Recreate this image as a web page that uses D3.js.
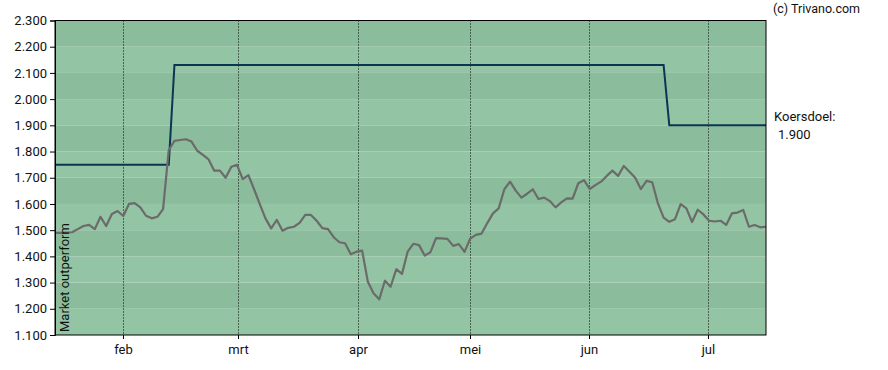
<!DOCTYPE html>
<html>
<head>
<meta charset="utf-8">
<script src="https://cdnjs.cloudflare.com/ajax/libs/d3/7.8.5/d3.min.js"></script>
<style>
  body { margin: 0; background: #fff; }
  svg { font-family: Roboto, sans-serif; }
</style>
</head>
<body>
<div id="chart"></div>
<script>
// koers per handelsdag (index 0..125)
var koers = [1490,1490,1491,1492,1504,1516,1520,1504,1551,1516,1562,1573,1554,1600,1603,1587,1555,1545,1551,1580,
  1806,1841,1844,1847,1838,1803,1787,1770,1727,1727,1700,1742,1749,1695,1710,1656,1599,1545,1507,1539,
  1498,1509,1513,1528,1558,1558,1536,1508,1504,1473,1454,1450,1408,1418,1422,1303,1259,1236,1307,1284,
  1351,1333,1418,1448,1443,1403,1416,1470,1469,1467,1440,1447,1417,1468,1482,1487,1527,1564,1583,1656,
  1685,1651,1624,1639,1656,1619,1624,1611,1587,1606,1621,1620,1679,1691,1657,1672,1685,1707,1727,1707,
  1745,1723,1700,1657,1688,1683,1602,1548,1532,1542,1599,1583,1531,1578,1560,1536,1533,1536,1520,1564,
  1567,1577,1513,1520,1511,1513];

// koersdoel: wijzigingen (index, waarde)
var doelIndex = [0, 20, 21, 107, 108, 125];
var doelWaarde = [1750, 1750, 2130, 2130, 1900, 1900];

// maandlabels en hun positie (handelsdag-index)
var maanden = ["feb", "mrt", "apr", "mei", "jun", "jul"];
var maandIndex = [11.95, 32.17, 53.27, 72.96, 93.88, 114.8];

var yTicks = [1100, 1200, 1300, 1400, 1500, 1600, 1700, 1800, 1900, 2000, 2100, 2200, 2300];

var width = 888, height = 370;
var margin = {top: 20.5, right: 122, bottom: 35, left: 55};

var nl = d3.formatLocale({decimal: ",", thousands: ".", grouping: [3], currency: ["€", ""]});
var fmt = nl.format(",.0f");

var svg = d3.select("#chart").append("svg")
  .attr("width", width)
  .attr("height", height);

var x = d3.scaleLinear().domain([0, koers.length - 1]).range([margin.left, width - margin.right]);
var y = d3.scaleLinear().domain([1100, 2300]).range([height - margin.bottom, margin.top]);

// banden
var bands = yTicks.slice(0, -1);
svg.append("g").selectAll("rect")
  .data(bands)
  .enter().append("rect")
  .attr("x", x(0))
  .attr("width", x(koers.length - 1) - x(0))
  .attr("y", d => y(d + 100))
  .attr("height", d => y(d) - y(d + 100))
  .attr("fill", d => (d / 100) % 2 === 0 ? "#8bbd9c" : "#93c4a4");

// verticale stippellijnen
svg.append("g").selectAll("line")
  .data(maandIndex)
  .enter().append("line")
  .attr("x1", d => Math.round(x(d)) + 0.5)
  .attr("x2", d => Math.round(x(d)) + 0.5)
  .attr("y1", y(2300))
  .attr("y2", y(1100))
  .attr("stroke", "#000")
  .attr("stroke-dasharray", "1,2");

// koersdoel lijn
var doel = doelIndex.map((d, i) => [d, doelWaarde[i]]);
svg.append("path")
  .datum(doel)
  .attr("fill", "none")
  .attr("stroke", "#0b3554")
  .attr("stroke-width", 2)
  .attr("d", d3.line().x(d => x(d[0])).y(d => y(d[1])));

// koers lijn
svg.append("path")
  .datum(koers)
  .attr("fill", "none")
  .attr("stroke", "#6b6b6b")
  .attr("stroke-width", 2.2)
  .attr("stroke-linejoin", "round")
  .attr("d", d3.line().x((d, i) => x(i)).y(d => y(d)));

// kader
svg.append("rect")
  .attr("x", x(0))
  .attr("y", y(2300))
  .attr("width", x(koers.length - 1) - x(0))
  .attr("height", y(1100) - y(2300))
  .attr("fill", "none")
  .attr("stroke", "#000")
  .attr("stroke-width", 1);

// y-as
var yAxis = svg.append("g")
  .attr("transform", "translate(" + x(0) + ",0)")
  .call(d3.axisLeft(y).tickValues(yTicks).tickSize(5).tickPadding(3).tickFormat(fmt));
yAxis.select(".domain").attr("stroke", "#000");
yAxis.selectAll("text").attr("font-size", 13).attr("fill", "#111").attr("font-family", "Roboto, sans-serif");

// x-as
var xAxis = svg.append("g")
  .attr("transform", "translate(0," + y(1100) + ")")
  .call(d3.axisBottom(x).tickValues(maandIndex).tickSize(4).tickPadding(6)
    .tickFormat((d, i) => maanden[i]));
xAxis.select(".domain").remove();
xAxis.selectAll("text").attr("font-size", 13).attr("fill", "#111").attr("font-family", "Roboto, sans-serif");

// teksten
svg.append("text")
  .attr("transform", "translate(" + (x(0) + 14) + "," + (y(1100) - 3) + ") rotate(-90)")
  .attr("font-size", 13)
  .attr("fill", "#111")
  .text("Market outperform");

svg.append("text")
  .attr("x", 773).attr("y", 13)
  .attr("font-size", 12.5)
  .attr("fill", "#111")
  .text("(c) Trivano.com");

svg.append("text")
  .attr("x", 774).attr("y", 121)
  .attr("font-size", 13)
  .attr("fill", "#111")
  .text("Koersdoel:");

svg.append("text")
  .attr("x", 778).attr("y", 139)
  .attr("font-size", 13)
  .attr("fill", "#111")
  .text(fmt(doelWaarde[doelWaarde.length - 1]));
</script>
</body>
</html>
